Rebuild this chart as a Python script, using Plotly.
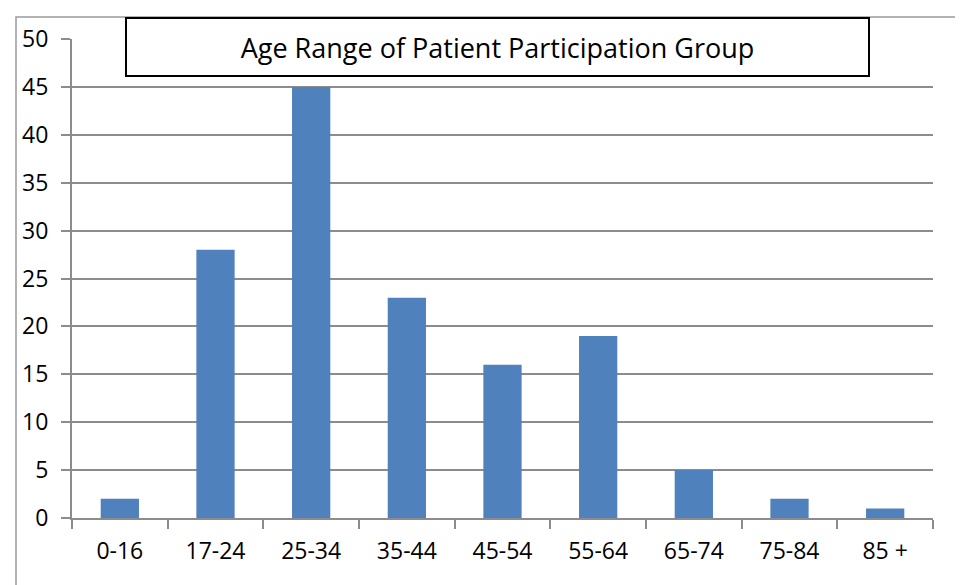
import plotly.graph_objects as go

categories = ["0-16", "17-24", "25-34", "35-44", "45-54", "55-64", "65-74", "75-84", "85 +"]
values = [2, 28, 45, 23, 16, 19, 5, 2, 1]
y_ticks = [0, 5, 10, 15, 20, 25, 30, 35, 40, 45, 50]
title_text = "Age Range of Patient Participation Group"

OFF = 8  # default page body margin
W, H = 963 - OFF, 585 - OFF
# target plot area in window pixels: x 72..933, y 39..518
L, R, T, B = 72 - OFF, 963 - 933, 39 - OFF, 585 - 518
pw, ph = W - L - R, H - T - B

def px_x(p):
    return (p - OFF - L) / pw

def px_y(p):
    return (H - B - (p - OFF)) / ph

FONT = "Open Sans"
GRID = "#8c8c8c"

fig = go.Figure(
    go.Bar(
        x=categories,
        y=values,
        marker=dict(color="#4f81bd", line=dict(width=0)),
    )
)

fig.update_layout(
    width=W,
    height=H,
    margin=dict(l=L, r=R, t=T, b=B),
    paper_bgcolor="white",
    plot_bgcolor="white",
    bargap=0.6,
    showlegend=False,
    font=dict(family=FONT, size=23, color="black"),
)

fig.update_xaxes(
    showgrid=False,
    showline=True,
    linecolor=GRID,
    linewidth=2,
    ticks="outside",
    ticklen=9,
    tickwidth=2,
    tickcolor=GRID,
    tickson="boundaries",
    ticklabelstandoff=11,
    tickfont=dict(family=FONT, size=23, color="black"),
)

fig.update_yaxes(
    range=[0, 50],
    tickvals=y_ticks,
    showgrid=True,
    gridcolor=GRID,
    gridwidth=1.5,
    showline=True,
    linecolor=GRID,
    linewidth=2,
    ticks="outside",
    ticklen=9,
    tickwidth=2,
    tickcolor=GRID,
    ticklabelstandoff=8,
    zeroline=False,
    tickfont=dict(family=FONT, size=23, color="black"),
)

# outer chart border (cropped at right/bottom)
fig.add_shape(
    type="rect",
    xref="paper", yref="paper",
    x0=px_x(16), x1=px_x(1000),
    y0=px_y(620), y1=px_y(17),
    line=dict(color="#9a9a9a", width=1.5),
    fillcolor="rgba(0,0,0,0)",
    layer="below",
)

# title box
fig.add_annotation(
    xref="paper", yref="paper",
    x=px_x((125 + 870) / 2), y=px_y(17),
    xanchor="center", yanchor="top",
    text=title_text,
    showarrow=False,
    width=870 - 125 - 4,
    height=77 - 17 - 4,
    bgcolor="white",
    bordercolor="black",
    borderwidth=2,
    borderpad=0,
    font=dict(family=FONT, size=27, color="black"),
)

fig.write_html("out.html")
